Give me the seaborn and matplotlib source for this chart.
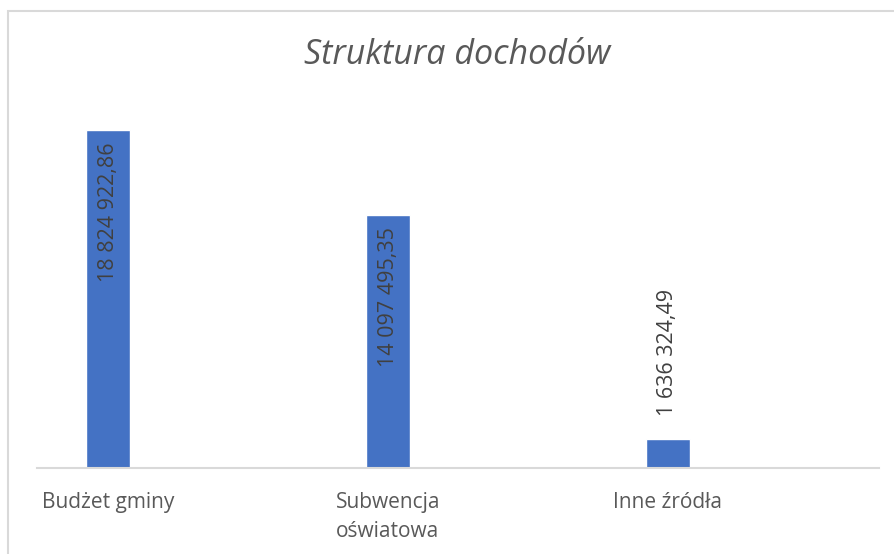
import seaborn as sns
import matplotlib.pyplot as plt
import pandas as pd
from matplotlib.patches import Rectangle

# dane
kategorie = ["Budżet gminy", "Subwencja oświatowa", "Inne źródła"]
etykiety_osi = ["Budżet gminy", "Subwencja\noświatowa", "Inne źródła"]
dochody = [18824922.86, 14097495.35, 1636324.49]

df = pd.DataFrame({"kategoria": kategorie, "dochod": dochody})

sns.set_style("white")
plt.rcParams["font.family"] = ["Open Sans", "DejaVu Sans"]

fig = plt.figure(figsize=(8.94, 5.54), dpi=100)
W, H = 894, 554

# ramka wykresu (jak w Excelu) - prawa i dolna krawedz poza obrazkiem
fig.patches.append(Rectangle((8 / W, -0.1), 1.2, 1.1 - 11 / H, transform=fig.transFigure,
                             fill=False, edgecolor="#d9d9d9", linewidth=1.5))

ax = fig.add_axes([37 / W, 1 - 468 / H, (879 - 37) / W, (468 - 109) / H])
sns.barplot(data=df, x="kategoria", y="dochod", color="#4472C4", saturation=1,
            width=0.157, ax=ax)

ax.set_xlim(-0.254, 2.754)
ax.set_ylim(0, 20000000)
ax.set_xlabel("")
ax.set_ylabel("")
ax.set_yticks([])
ax.set_xticks(range(len(kategorie)))
ax.set_xticklabels(etykiety_osi, fontsize=15, color="#595959", linespacing=1.55)
for lbl in ax.get_xticklabels():
    lbl.set_multialignment("left")
ax.tick_params(axis="x", length=0, pad=17)

for s in ["top", "right", "left"]:
    ax.spines[s].set_visible(False)
ax.spines["bottom"].set_color("#d9d9d9")
ax.spines["bottom"].set_linewidth(1.5)

def fmt(v):
    return f"{v:,.2f}".replace(",", " ").replace(".", ",")

for i, v in enumerate(dochody):
    if v > 5000000:
        ax.annotate(fmt(v), xy=(i, v), xytext=(0, -9), textcoords="offset points",
                    rotation=90, ha="center", va="top", fontsize=15.5, color="#404040")
    else:
        ax.annotate(fmt(v), xy=(i, v), xytext=(0, 16), textcoords="offset points",
                    rotation=90, ha="center", va="bottom", fontsize=15.5, color="#404040")

fig.text(457 / W, 1 - 55 / H, "Struktura dochodów", ha="center", va="center",
         fontsize=24.5, style="italic", color="#595959")

fig.savefig("out.png", dpi=100)
